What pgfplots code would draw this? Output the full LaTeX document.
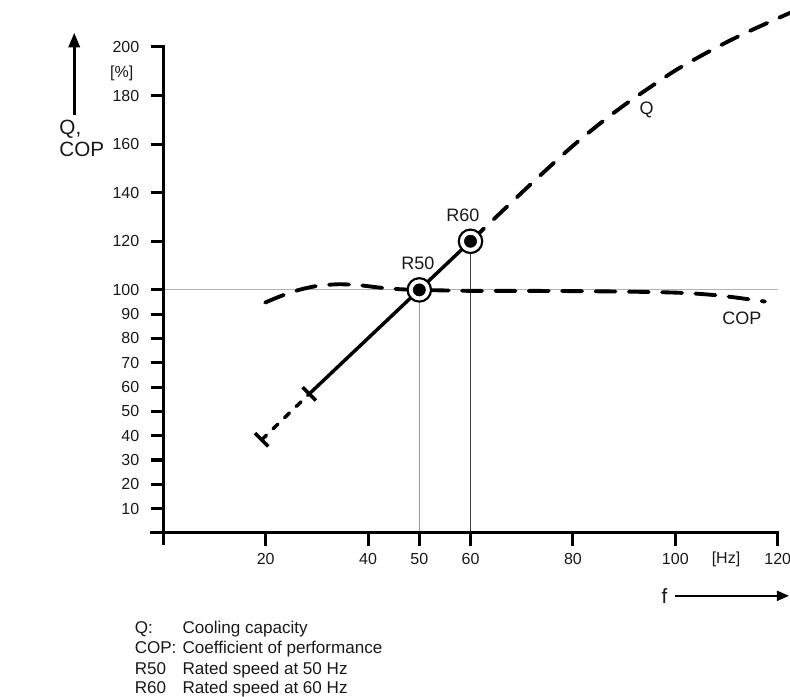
\documentclass[border=0pt]{standalone}
\usepackage{fontspec}
\setmainfont{Liberation Sans}
\usepackage{pgfplots}
\pgfplotsset{compat=1.18}
\usetikzlibrary{arrows.meta}

\begin{document}
\begin{tikzpicture}
  \begin{axis}[
    x=3.84pt, y=1.8225pt,
    xmin=0, xmax=120, ymin=0, ymax=200,
    axis lines=left,
    axis line style={draw=none},
    clip=false,
    xtick={20,40,50,60,80,100,120},
    ytick={10,20,30,40,50,60,70,80,90,100,120,140,160,180,200},
    tick align=outside,
    major tick length=9.5pt,
    tick style={line width=2.3pt, black},
    /pgf/number format/assume math mode=true,
    ticklabel style={font=\fontsize{12}{14}\selectfont, text=black!90},
    xticklabel style={yshift=-2.5pt},
    yticklabel style={xshift=-5pt},
  ]
    % guide lines
    \addplot[gray!60, line width=0.7pt] coordinates {(0,100) (120,100)};
    \addplot[gray!80, line width=0.7pt] coordinates {(50,0) (50,100)};
    \addplot[black!75, line width=0.8pt] coordinates {(60,0) (60,120)};

    % axis lines
    \addplot[line width=2.3pt] coordinates {(-2.6,0) (120.3,0)};
    \addplot[line width=2.3pt] coordinates {(0,-5) (0,200.6)};

    % COP
    \addplot[line width=2.9pt, line cap=round, dash pattern=on 15pt off 10pt, smooth] coordinates {
      (19.9,94.8) (23,97.5) (26.5,100) (30,101.6) (34,102.3) (38,102)
      (42,101) (46,100.3) (50,100) (60,99.6) (70,99.6) (80,99.5)
      (90,99.3) (98,99) (103,98.6) (108,97.8) (112,96.8) (117.5,95.2)
    };

    % Q
    \addplot[line width=2.6pt, line cap=round, dash pattern=on 5pt off 7pt] coordinates {
      (19.2,38.3) (28.5,57.2)
    };
    \addplot[line width=2.6pt] coordinates {(28.5,57.2) (60,120)};
    \addplot[line width=2.9pt, line cap=round, dash pattern=on 14pt off 10pt, smooth] coordinates {
      (60,120) (65,130) (70,140) (75,149.8) (80,159.3) (85,168) (90,176)
      (95,183.3) (100,190.3) (105,196.3) (110,201.9) (115,207) (122.4,214)
    };
    \addplot[only marks, mark=|, mark size=7pt, mark options={rotate=45, line width=2.6pt}] coordinates {
      (19.2,38.3) (28.5,57.2)
    };

    % rated points
    \addplot[only marks, mark=*, mark size=8.8pt, mark options={fill=white, draw=black, line width=1.6pt}] coordinates {
      (50,100) (60,120)
    };
    \addplot[only marks, mark=*, mark size=4.6pt, mark options={fill=black}] coordinates {
      (50,100) (60,120)
    };

    % labels
    \node[font=\fontsize{13.5}{16}\selectfont, text=black!90] at (axis cs:49.7,111.1) {R50};
    \node[font=\fontsize{13.5}{16}\selectfont, text=black!90] at (axis cs:58.5,130.9) {R60};
    \node[font=\fontsize{13.5}{16}\selectfont, text=black!90] at (axis cs:94.4,174.1) {Q};
    \node[font=\fontsize{13.5}{16}\selectfont, text=black!90] at (axis cs:113,88.4) {COP};

    \node[anchor=east, font=\fontsize{12}{14}\selectfont, text=black!90] at (axis cs:-4.95,189.3) {[\%]};
    \node[font=\fontsize{12}{14}\selectfont, text=black!90] at (axis cs:109.9,-10.7) {[Hz]};

    \node[anchor=base west, font=\fontsize{15.5}{18}\selectfont, text=black!90] at (axis cs:-21.2,163.8) {Q,};
    \node[anchor=base west, font=\fontsize{15.5}{18}\selectfont, text=black!90] at (axis cs:-21.2,154.7) {COP};
    \draw[line width=1.9pt, -{Triangle[length=11pt, width=8.5pt]}] (axis cs:-17.4,172) -- (axis cs:-17.4,205.8);

    \node[font=\fontsize{15.5}{18}\selectfont, text=black!90] at (axis cs:97.9,-25.9) {f};
    \draw[line width=1.5pt, -{Triangle[length=9pt, width=7.5pt]}] (axis cs:99.9,-25.9) -- (axis cs:122.2,-25.9);

    % key
    \node[anchor=base west, font=\fontsize{12.8}{15}\selectfont, text=black!90] at (axis cs:-6.5,-41.6) {Q:};
    \node[anchor=base west, font=\fontsize{12.8}{15}\selectfont, text=black!90] at (axis cs:2.83,-41.6) {Cooling capacity};
    \node[anchor=base west, font=\fontsize{12.8}{15}\selectfont, text=black!90] at (axis cs:-6.5,-49.7) {COP:};
    \node[anchor=base west, font=\fontsize{12.8}{15}\selectfont, text=black!90] at (axis cs:2.83,-49.7) {Coefficient of performance};
    \node[anchor=base west, font=\fontsize{12.8}{15}\selectfont, text=black!90] at (axis cs:-6.5,-58.2) {R50};
    \node[anchor=base west, font=\fontsize{12.8}{15}\selectfont, text=black!90] at (axis cs:2.83,-58.2) {Rated speed at 50 Hz};
    \node[anchor=base west, font=\fontsize{12.8}{15}\selectfont, text=black!90] at (axis cs:-6.5,-66.2) {R60};
    \node[anchor=base west, font=\fontsize{12.8}{15}\selectfont, text=black!90] at (axis cs:2.83,-66.2) {Rated speed at 60 Hz};

    \coordinate (bl) at (axis cs:-31.9,-67.5);
    \coordinate (tr) at (axis cs:122.4,219.3);
  \end{axis}
  \pgfresetboundingbox
  \path[use as bounding box] (bl) rectangle (tr);
\end{tikzpicture}
\end{document}
